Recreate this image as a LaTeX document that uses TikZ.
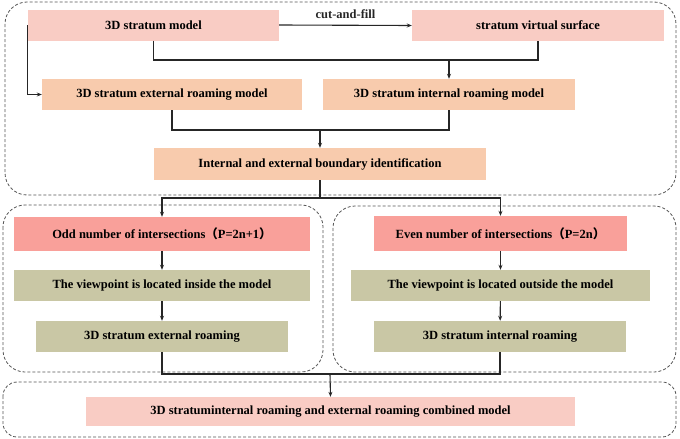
\documentclass[tikz,border=0pt]{standalone}
\usepackage{fontspec}
\setmainfont{Liberation Serif}
\newfontfamily\cjk{Noto Sans CJK SC}
\usetikzlibrary{positioning,arrows.meta}
\definecolor{ModelPink}{HTML}{F9CCC4}
\definecolor{RoamPeach}{HTML}{F8CBAD}
\definecolor{CountRed}{HTML}{F9A09A}
\definecolor{ViewOlive}{HTML}{C9C7A5}
\definecolor{FrameGray}{HTML}{555555}

\tikzset{
  stepbox/.style={minimum height=31pt,inner sep=0pt,font=\fontsize{12.5}{14}\selectfont\bfseries},
  groupframe/.style={FrameGray,line width=0.8pt,dash pattern=on 3pt off 2pt,rounded corners=22pt},
  link/.style={black!85,line width=1.1pt},
  linkarrow/.style={link,-{Stealth[length=5pt,width=4pt]}}
}

\begin{document}
\begin{tikzpicture}[x=1pt,y=-1pt]
        \useasboundingbox (0,0) rectangle (680,439);
        \draw[groupframe] (5,2) rectangle (676,195);
        \draw[groupframe] (3,205) rectangle (323,372);
        \draw[groupframe] (333,206) rectangle (676,372);
        \draw[groupframe,rounded corners=14pt] (3,382) rectangle (676,437);
        \node[stepbox,fill=ModelPink,minimum width=251pt] (model) at (153.5,25) {3D stratum model};
        \node[stepbox,fill=ModelPink,minimum width=252pt] (surf) at (538,25.5) {stratum virtual surface};
        \node[stepbox,fill=RoamPeach,minimum width=260pt] (extmodel) at (172,94.5) {3D stratum external roaming model};
        \node[stepbox,fill=RoamPeach,minimum width=252pt] (intmodel) at (449,94.5) {3D stratum internal roaming model};
        \node[stepbox,fill=RoamPeach,minimum width=332pt,minimum height=32pt] (bound) at (320,164) {Internal and external boundary identification};
        \node[stepbox,fill=CountRed,minimum width=296pt,minimum height=34pt] (odd) at (162,234) {Odd number of intersections{\cjk （}P=2n+1{\cjk ）}};
        \node[stepbox,fill=CountRed,minimum width=253pt,minimum height=35pt] (even) at (500.5,233.5) {Even number of intersections{\cjk （}P=2n{\cjk ）}};
        \node[stepbox,fill=ViewOlive,minimum width=296pt] (inside) at (162,285.5) {The viewpoint is located inside the model};
        \node[stepbox,fill=ViewOlive,minimum width=299pt] (outside) at (500.5,285.5) {The viewpoint is located outside the model};
        \node[stepbox,fill=ViewOlive,minimum width=252pt] (extroam) at (162,336.5) {3D stratum external roaming};
        \node[stepbox,fill=ViewOlive,minimum width=252pt] (introam) at (500,336.5) {3D stratum internal roaming};
        \node[stepbox,fill=ModelPink,minimum width=489pt,minimum height=29pt] (combined) at (330.5,411.5) {3D stratuminternal roaming and external roaming combined model};
        \coordinate (joinA) at (449,60);
        \coordinate (joinB) at (320,130);
        \coordinate (joinC) at (320,198);
        \coordinate (joinD) at (330,374);
        \draw[linkarrow] (model.east) -- node[above=3pt,font=\fontsize{12.5}{14}\selectfont\bfseries] {cut-and-fill} (surf.west);
        \draw[linkarrow] (model.west) |- (extmodel.west);
        \draw[link] (model.south) |- (joinA) -| (surf.south);
        \draw[linkarrow] (joinA) -- (intmodel.north);
        \draw[link] (extmodel.south) |- (joinB) -| (intmodel.south);
        \draw[linkarrow] (joinB) -- (bound.north);
        \draw[link] (bound.south) -- (joinC);
        \draw[linkarrow] (joinC) -| (odd.north);
        \draw[linkarrow] (joinC) -| (even.north);
        \draw[linkarrow] (odd) -- (inside);
        \draw[linkarrow] (inside) -- (extroam);
        \draw[linkarrow] (even) -- (outside);
        \draw[linkarrow] (outside) -- (introam);
        \draw[link] (extroam.south) |- (joinD) -| (introam.south);
        \draw[linkarrow] (joinD) -- (combined.north);
      \end{tikzpicture}
\end{document}
